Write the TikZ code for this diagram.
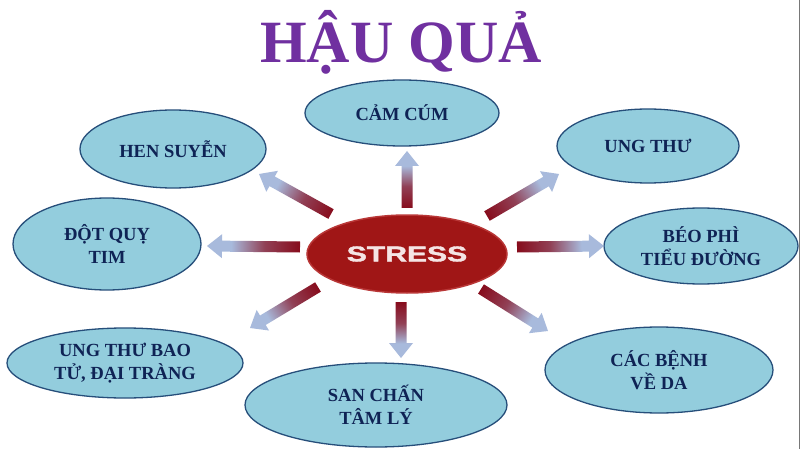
\documentclass[tikz,border=0pt]{standalone}
\usepackage{fontspec}
\setmainfont{Liberation Serif}
\newfontfamily\stressfont{Liberation Sans}[BoldFeatures={FakeBold=1.6}]
\usepackage{graphicx}
\usetikzlibrary{shapes.geometric}
\definecolor{titlepurple}{RGB}{112,48,160}
\definecolor{ellfill}{RGB}{147,205,221}
\definecolor{elldraw}{RGB}{38,78,122}
\definecolor{elltext}{RGB}{15,35,85}
\definecolor{stressfill}{RGB}{160,22,22}
\definecolor{stressdraw}{RGB}{185,55,55}
\definecolor{stresstext}{RGB}{245,228,228}
\definecolor{arrowbase}{RGB}{135,12,28}
\definecolor{arrowtip}{RGB}{168,186,220}
\definecolor{edgegray}{RGB}{120,120,120}
\pgfdeclarehorizontalshading{arrowshade}{100bp}{color(0bp)=(arrowbase); color(25bp)=(arrowbase); color(44bp)=(arrowbase!70!arrowtip); color(62bp)=(arrowtip); color(100bp)=(arrowtip)}
\newdimen\gaX \newdimen\gaY \newdimen\gbX \newdimen\gbY
\newcommand\gradarrow[2]{%
  \pgfextractx{\gaX}{\pgfpointanchor{#1}{center}}%
  \pgfextracty{\gaY}{\pgfpointanchor{#1}{center}}%
  \pgfextractx{\gbX}{\pgfpointanchor{#2}{center}}%
  \pgfextracty{\gbY}{\pgfpointanchor{#2}{center}}%
  \pgfmathsetmacro\gAng{atan2(\gbY-\gaY,\gbX-\gaX)}%
  \pgfmathsetmacro\gLen{veclen(\gbX-\gaX,\gbY-\gaY)}%
  \begin{scope}[transform canvas={shift={(#1)},rotate=\gAng},x=1pt,y=1pt]
    \shade[shading=arrowshade]
      (0,-5.5) -- (\gLen-15,-5.5) -- (\gLen-15,-12) -- (\gLen,0)
      -- (\gLen-15,12) -- (\gLen-15,5.5) -- (0,5.5) -- cycle;
  \end{scope}}
\tikzset{
  ell/.style={ellipse, draw=elldraw, line width=1.3pt, fill=ellfill,
    inner sep=0pt, align=center, text=elltext,
    font=\fontsize{18.5}{23}\selectfont\bfseries},
  stressnode/.style={ellipse, draw=stressdraw, line width=1.5pt, fill=stressfill,
    inner sep=0pt, text=stresstext, minimum width=200pt, minimum height=78pt},
  titlenode/.style={text=titlepurple, font=\fontsize{60}{68}\selectfont\bfseries, inner sep=0pt}
}
\begin{document}
\begin{tikzpicture}[x=1pt,y=-1pt]
\useasboundingbox[fill=white] (0,0) rectangle (800,449);
\draw[edgegray, line width=1pt] (799,0) -- (799,449);

\node[titlenode, anchor=base] (title) at (401,63) {HẬU QUẢ};

\node[stressnode] (stress) at (407,254)
  {\scalebox{1.4}[1]{\stressfont\fontsize{21.5}{24}\selectfont\bfseries STRESS}};

\node[ell, minimum width=194pt, minimum height=66pt] (camcum) at (402,113) {CẢM CÚM};
\node[ell, minimum width=186pt, minimum height=78pt] (hensuyen) at (173,149) {HEN SUYỄN};
\node[ell, minimum width=188pt, minimum height=92pt] (dotquy) at (107,244) {ĐỘT QUỴ\\TIM};
\node[ell, minimum width=182pt, minimum height=74pt] (ungthu) at (648,146) {UNG THƯ};
\node[ell, minimum width=194pt, minimum height=76pt] (beophi) at (701,246) {BÉO PHÌ\\TIỂU ĐƯỜNG};
\node[ell, minimum width=228pt, minimum height=86pt] (benhda) at (659,370) {CÁC BỆNH\\VỀ DA};
\node[ell, minimum width=236pt, minimum height=70pt] (ungthubao) at (125,363) {UNG THƯ BAO\\TỬ, ĐẠI TRÀNG};
\node[ell, minimum width=262pt, minimum height=84pt] (sanchan) at (376,405) {SAN CHẤN\\TÂM LÝ};

\coordinate (aUpS) at (407,208);   \coordinate (aUpE) at (407,151);
\coordinate (aULS) at (331,214);   \coordinate (aULE) at (259,174);
\coordinate (aLS) at (300,247);    \coordinate (aLE) at (207,246);
\coordinate (aURS) at (487,216);   \coordinate (aURE) at (559,174);
\coordinate (aRS) at (517,247);    \coordinate (aRE) at (604,246);
\coordinate (aDRS) at (481,289);   \coordinate (aDRE) at (548,331);
\coordinate (aDS) at (401,302);    \coordinate (aDE) at (401,358);
\coordinate (aDLS) at (318,287);   \coordinate (aDLE) at (250,328);

\gradarrow{aUpS}{aUpE}
\gradarrow{aULS}{aULE}
\gradarrow{aLS}{aLE}
\gradarrow{aURS}{aURE}
\gradarrow{aRS}{aRE}
\gradarrow{aDRS}{aDRE}
\gradarrow{aDS}{aDE}
\gradarrow{aDLS}{aDLE}
\end{tikzpicture}
\end{document}
